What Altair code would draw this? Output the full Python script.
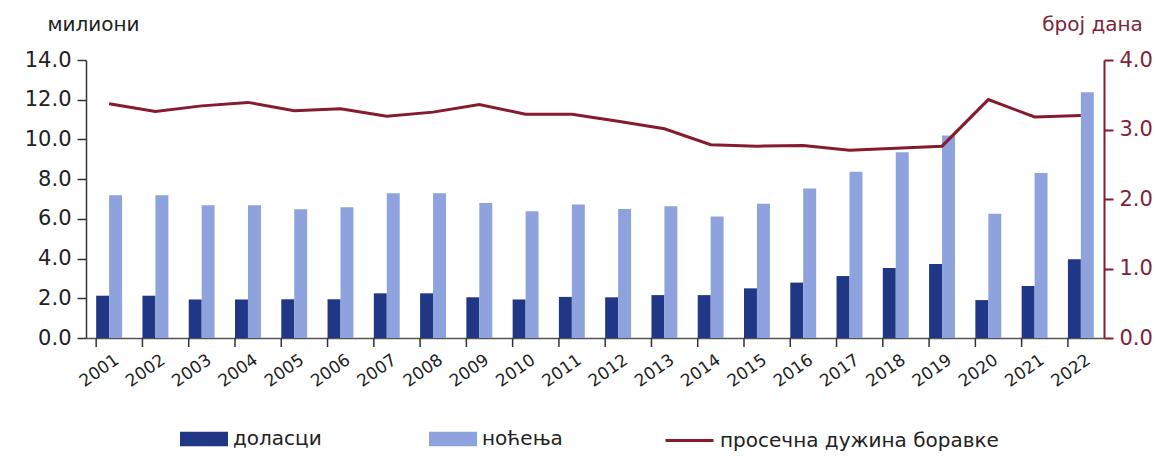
import altair as alt
import pandas as pd

years = [str(y) for y in range(2001, 2023)]
arrivals = [2.13, 2.13, 1.94, 1.94, 1.95, 1.95, 2.25, 2.25, 2.05, 1.94, 2.07, 2.05,
            2.16, 2.16, 2.50, 2.79, 3.12, 3.53, 3.73, 1.91, 2.62, 3.97]
nights = [7.19, 7.19, 6.68, 6.68, 6.48, 6.58, 7.29, 7.29, 6.80, 6.38, 6.72, 6.50,
          6.64, 6.12, 6.76, 7.53, 8.37, 9.36, 10.2, 6.26, 8.31, 12.37]
avg_stay = [3.37, 3.26, 3.34, 3.39, 3.27, 3.30, 3.19, 3.25, 3.36, 3.22, 3.22, 3.12,
            3.01, 2.78, 2.76, 2.77, 2.70, 2.73, 2.76, 3.43, 3.18, 3.20]
series_bars = ["доласци", "ноћења"]
series_line = "просечна дужина боравке"

FONT = "DejaVu Sans"
DARK = "#1f3784"
LIGHT = "#8ea3dd"
RED = "#861b2d"
RED_TXT = "#7e2339"

bars_df = pd.DataFrame({
    "year": years * 2,
    "series": [series_bars[0]] * len(years) + [series_bars[1]] * len(years),
    "value": arrivals + nights,
})
line_df = pd.DataFrame({"year": years, "days": avg_stay, "series": [series_line] * len(years)})

x_scale = alt.Scale(domain=years, paddingInner=0.44, paddingOuter=0.22)
x_axis = alt.Axis(title=None, labelAngle=-35, labelAlign="right", labelBaseline="middle",
                  labelFont=FONT, labelFontSize=17, labelColor="#222",
                  labelPadding=20, labelOffset=8, ticks=False,
                  domainColor="#555", domainWidth=1.5)

bars = alt.Chart(bars_df).mark_bar().encode(
    x=alt.X("year:N", scale=x_scale, axis=x_axis, sort=years),
    xOffset=alt.XOffset("series:N", sort=series_bars,
                        scale=alt.Scale(paddingInner=0, paddingOuter=0)),
    y=alt.Y("value:Q", scale=alt.Scale(domain=[0, 14], nice=False),
            axis=alt.Axis(values=[0, 2, 4, 6, 8, 10, 12, 14], format=".1f",
                          grid=False, title="милиони", titleAngle=0,
                          titleX=7, titleY=-36, titleAlign="center", titleBaseline="middle",
                          titleFont=FONT, titleFontSize=20, titleFontWeight="normal",
                          titleColor="#222",
                          labelFont=FONT, labelFontSize=21, labelColor="#222",
                          labelPadding=6, tickSize=9, tickColor="#333",
                          domainColor="#333", domainWidth=1.5, tickWidth=1.5)),
    color=alt.Color("series:N",
                    scale=alt.Scale(domain=series_bars, range=[DARK, LIGHT]),
                    legend=alt.Legend(title=None, orient="none", direction="horizontal",
                                      legendX=94, legendY=355,
                                      symbolType="M-1,-0.3H1V0.3H-1Z", symbolSize=2304,
                                      symbolStrokeWidth=0,
                                      labelFont=FONT, labelFontSize=20, labelColor="#222",
                                      labelOffset=5, columnPadding=107, labelLimit=400)),
)

ticks = alt.Chart(pd.DataFrame({"year": years})).mark_rule(color="#333", strokeWidth=1.5).encode(
    x=alt.X("year:N", scale=x_scale, bandPosition=0, sort=years),
    y=alt.value(278), y2=alt.value(287),
)

line = alt.Chart(line_df).mark_line(strokeWidth=3).encode(
    x=alt.X("year:N", scale=x_scale, sort=years),
    y=alt.Y("days:Q", scale=alt.Scale(domain=[0, 4], nice=False),
            axis=alt.Axis(orient="right", values=[0, 1, 2, 3, 4], format=".1f",
                          grid=False, title="број дана", titleAngle=0,
                          titleX=-12, titleY=-36, titleAlign="center", titleBaseline="middle",
                          titleFont=FONT, titleFontSize=20, titleFontWeight="normal",
                          titleColor=RED_TXT,
                          labelFont=FONT, labelFontSize=21, labelColor=RED_TXT,
                          labelPadding=6, tickSize=9, tickColor=RED,
                          domainColor=RED, domainWidth=2, tickWidth=2)),
    stroke=alt.Stroke("series:N", scale=alt.Scale(domain=[series_line], range=[RED]),
                      legend=alt.Legend(title=None, orient="none", legendX=578, legendY=355,
                                        symbolType="stroke", symbolSize=2304,
                                        symbolStrokeWidth=3, labelLimit=400,
                                        labelFont=FONT, labelFontSize=20, labelColor="#222",
                                        labelOffset=5)),
)

chart = alt.layer(bars, ticks, line).resolve_scale(
    y="independent", color="independent", stroke="independent"
).properties(
    width=1018, height=278,
    autosize=alt.AutoSizeParams(type="none"),
    padding={"left": 78, "top": 52, "right": 56, "bottom": 117},
    background="white",
).configure_view(stroke=None)

chart.save("out.html", embed_options={"renderer": "svg", "actions": False})
